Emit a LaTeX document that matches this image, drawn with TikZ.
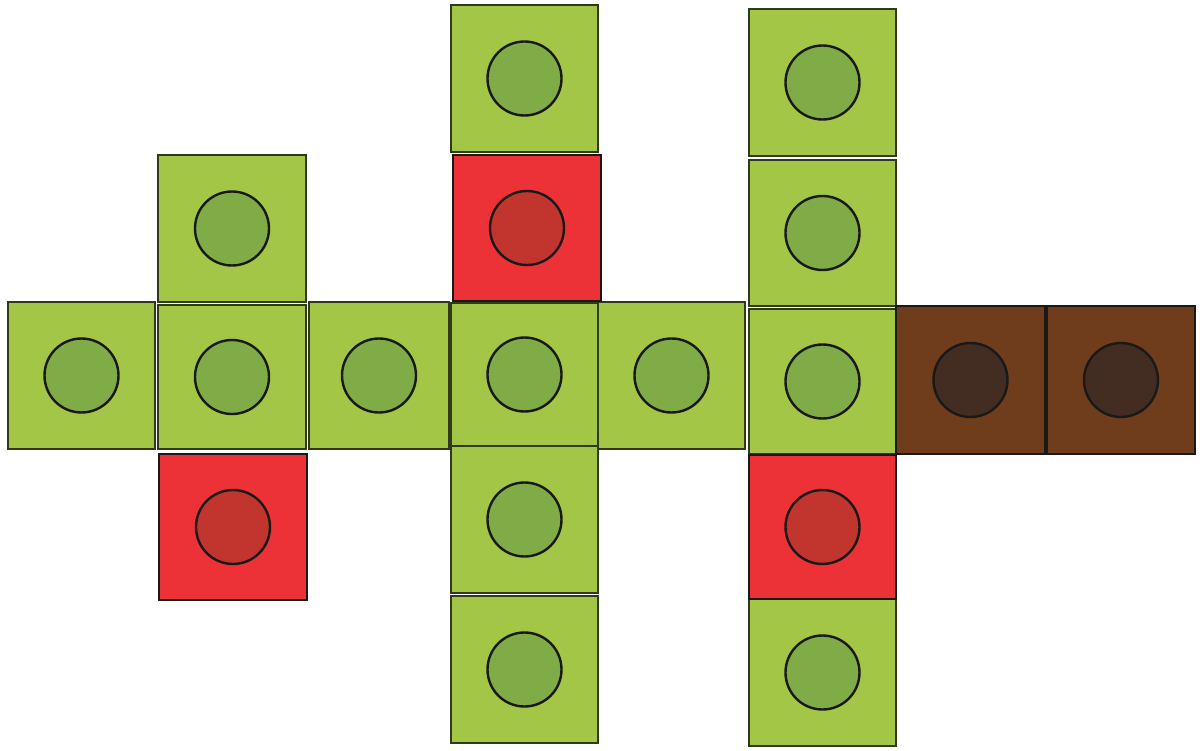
\documentclass[tikz,border=0pt]{standalone}
\definecolor{tileg}{HTML}{A4C646}
\definecolor{dotg}{HTML}{80AC47}
\definecolor{tiler}{HTML}{EC3237}
\definecolor{dotr}{HTML}{C1352E}
\definecolor{tileb}{HTML}{6F3D1B}
\definecolor{dotb}{HTML}{432D22}
\definecolor{edgeg}{HTML}{2E3A1A}
\tikzset{
  greentile/.style={fill=tileg, draw=edgeg, line width=1.3pt},
  redtile/.style={fill=tiler, draw=black!90, line width=2.2pt},
  browntile/.style={fill=tileb, draw=black!90, line width=2.6pt},
  greendot/.style={fill=dotg, draw=black!90, line width=2.4pt},
  reddot/.style={fill=dotr, draw=black!90, line width=2.4pt},
  browndot/.style={fill=dotb, draw=black!90, line width=2.4pt},
}
\begin{document}
\begin{tikzpicture}[x=1pt,y=-1pt]
\useasboundingbox (0,0) rectangle (1200,751);
% green tiles
\foreach \l/\t/\r/\b in {8/302/155/449, 158/155/306/302, 158/305/306/449, 309/302/449/449,
  451/5/598/152, 451/303/598/446, 451/446/598/593, 451/596/598/743, 598/302/745/449,
  749/9/896/156, 749/160/896/306, 749/309/896/454, 749/599/896/746}{
  \draw[greentile] (\l,\t) rectangle (\r,\b);
  \draw[greendot] ({(\l+\r)/2},{(\t+\b)/2}) circle[radius=37];
}
% red tiles
\foreach \l/\t/\r/\b in {159/454/307/600, 453/155/601/301, 749/455/896/599}{
  \draw[redtile] (\l,\t) rectangle (\r,\b);
  \draw[reddot] ({(\l+\r)/2},{(\t+\b)/2}) circle[radius=37];
}
% brown tiles
\foreach \l/\t/\r/\b in {896/306/1045/454, 1047/306/1195/454}{
  \draw[browntile] (\l,\t) rectangle (\r,\b);
  \draw[browndot] ({(\l+\r)/2},{(\t+\b)/2}) circle[radius=37];
}
\end{tikzpicture}
\end{document}
